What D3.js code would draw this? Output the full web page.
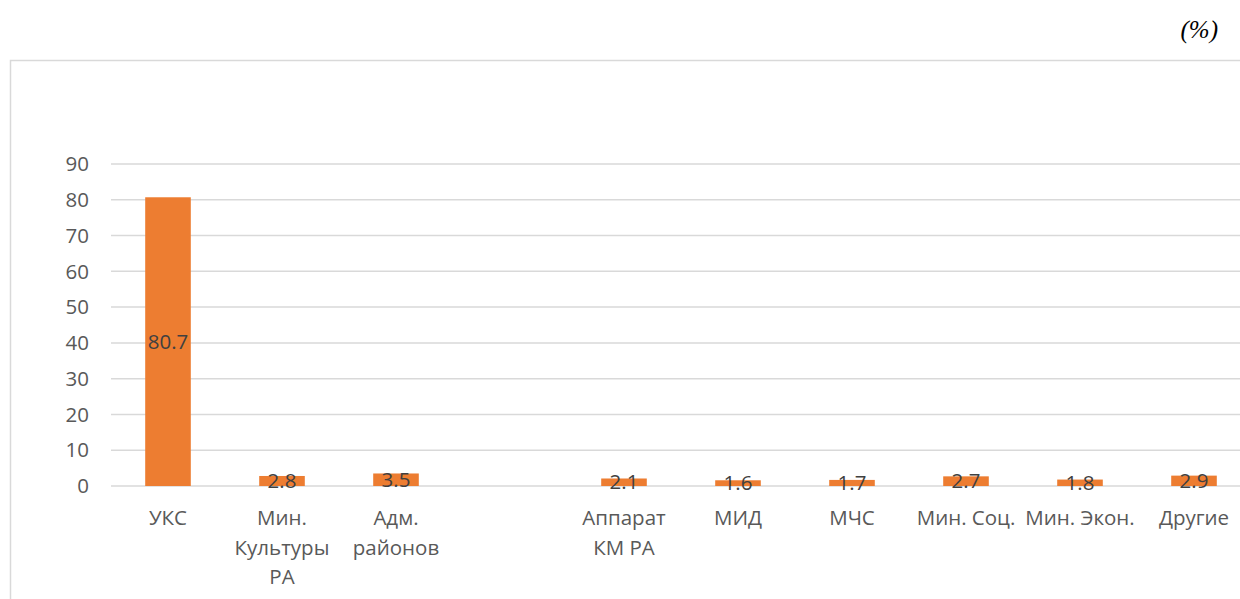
<!DOCTYPE html>
<html>
<head>
<meta charset="utf-8">
<script src="https://cdn.jsdelivr.net/npm/d3@7"></script>
<style>
  body { margin: 0; background: #fff; }
  svg { display: block; }
  text { font-family: "Open Sans", "Noto Sans", sans-serif; }
</style>
</head>
<body>
<script>
// values, in percent
var categories = ["УКС", "Мин.\nКультуры\nРА", "Адм.\nрайонов", "", "Аппарат\nКМ РА", "МИД", "МЧС", "Мин. Соц.", "Мин. Экон.", "Другие"];
var values = [80.7, 2.8, 3.5, null, 2.1, 1.6, 1.7, 2.7, 1.8, 2.9];
var yTicks = [0, 10, 20, 30, 40, 50, 60, 70, 80, 90];

var width = 1240, height = 599;
var fontSize = '20.5px';

var svg = d3.select('body').append('svg')
  .attr('width', width)
  .attr('height', height);

// chart area frame (runs off the right and bottom edge)
svg.append('rect')
  .attr('x', 10.5).attr('y', 60.5)
  .attr('width', 1260).attr('height', 600)
  .attr('fill', 'none')
  .attr('stroke', '#d9d9d9')
  .attr('stroke-width', 1.5);

svg.append('text')
  .attr('x', 1218).attr('y', 38)
  .attr('text-anchor', 'end')
  .style('font-family', '"Liberation Serif", "Times New Roman", serif')
  .style('font-style', 'italic')
  .style('font-size', '25px')
  .text('(%)');

var data = categories.map(function(c, i) { return {id: i, name: c, value: values[i]}; });

var x = d3.scaleBand()
  .domain(d3.range(categories.length))
  .range([111, 1251])
  .paddingInner(0.6)
  .paddingOuter(0.3);

var y = d3.scaleLinear()
  .domain([0, 90])
  .range([486, 164]);

// grid
svg.append('g').selectAll('line')
  .data(yTicks)
  .enter()
  .append('line')
  .attr('x1', 111).attr('x2', 1251)
  .attr('y1', function(d) { return y(d); })
  .attr('y2', function(d) { return y(d); })
  .attr('stroke', '#d9d9d9')
  .attr('stroke-width', 1.5);

// y tick labels
svg.append('g').selectAll('text')
  .data(yTicks)
  .enter()
  .append('text')
  .attr('x', 89)
  .attr('y', function(d) { return y(d); })
  .attr('dy', '0.35em')
  .attr('text-anchor', 'end')
  .attr('fill', '#595959')
  .style('font-size', fontSize)
  .text(function(d) { return d; });

var withVal = data.filter(function(d) { return d.value != null; });

svg.append('g').selectAll('rect')
  .data(withVal)
  .enter()
  .append('rect')
  .attr('x', function(d) { return x(d.id); })
  .attr('width', x.bandwidth())
  .attr('y', function(d) { return y(d.value); })
  .attr('height', function(d) { return y(0) - y(d.value); })
  .attr('fill', '#ed7d31');

// value labels, centred in the bar
svg.append('g').selectAll('text')
  .data(withVal)
  .enter()
  .append('text')
  .attr('x', function(d) { return x(d.id) + x.bandwidth() / 2; })
  .attr('y', function(d) { return (y(d.value) + y(0)) / 2; })
  .attr('dy', '0.35em')
  .attr('text-anchor', 'middle')
  .attr('fill', '#404040')
  .style('font-size', fontSize)
  .text(function(d) { return d.value.toFixed(1); });

// category labels
var cat = svg.append('g').selectAll('text')
  .data(data)
  .enter()
  .append('text')
  .attr('x', function(d) { return x(d.id) + x.bandwidth() / 2; })
  .attr('y', 525)
  .attr('text-anchor', 'middle')
  .attr('fill', '#595959')
  .style('font-size', fontSize);

cat.selectAll('tspan')
  .data(function(d) { return d.name.split('\n').map(function(s) { return {s: s, x: x(d.id) + x.bandwidth() / 2}; }); })
  .enter()
  .append('tspan')
  .attr('x', function(t) { return t.x; })
  .attr('dy', function(t, i) { return i ? 29.5 : 0; })
  .text(function(t) { return t.s; });
</script>
</body>
</html>
